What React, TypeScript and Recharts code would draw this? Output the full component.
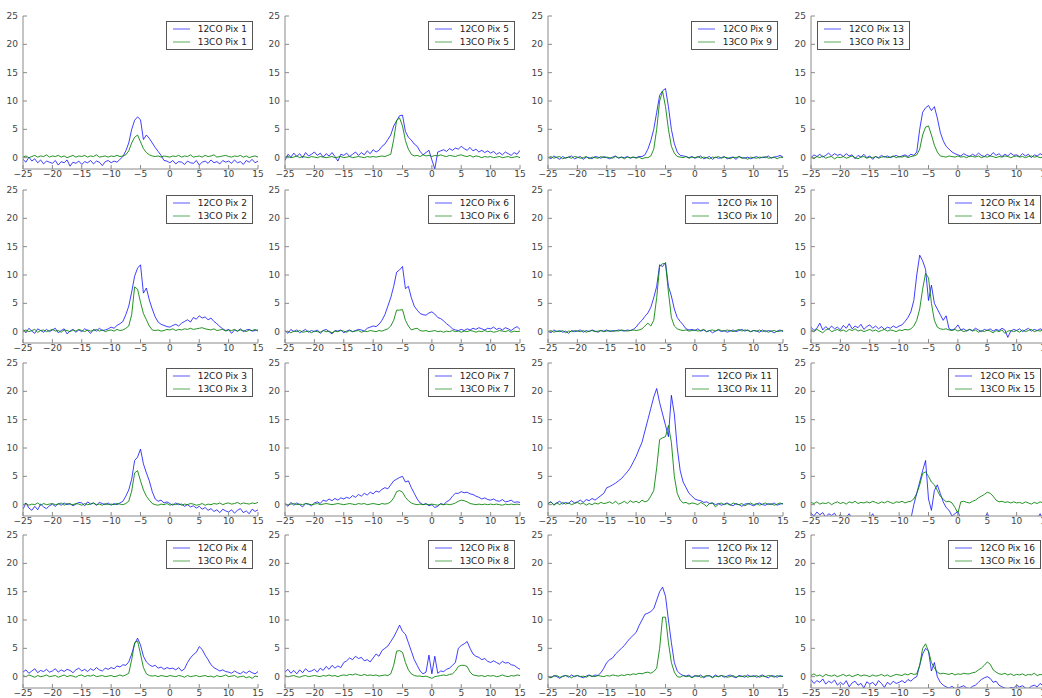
import { LineChart, Line, XAxis, YAxis, Legend } from "recharts";

// velocity channels (km/s), shared by every spectrum
const velocity = [
  -25, -24.5, -24, -23.5, -23, -22.5, -22, -21.5, -21, -20.5,
  -20, -19.5, -19, -18.5, -18, -17.5, -17, -16.5, -16, -15.5,
  -15, -14.5, -14, -13.5, -13, -12.5, -12, -11.5, -11, -10.5,
  -10, -9.5, -9, -8.5, -8, -7.5, -7, -6.5, -6, -5.5,
  -5, -4.5, -4, -3.5, -3, -2.5, -2, -1.5, -1, -0.5,
  0, 0.5, 1, 1.5, 2, 2.5, 3, 3.5, 4, 4.5,
  5, 5.5, 6, 6.5, 7, 7.5, 8, 8.5, 9, 9.5,
  10, 10.5, 11, 11.5, 12, 12.5, 13, 13.5, 14, 14.5, 15,
];

const xTicks = [-25, -20, -15, -10, -5, 0, 5, 10, 15];
const yTicks = [0, 5, 10, 15, 20, 25];

const pix1co12 = [
  -0.3, -0.8, 0.1, -0.6, -0.2, -0.9, -0.4, -1.1, -0.6, -0.8,
  -1.0, -0.5, -1.3, -0.7, -0.9, -0.4, -1.5, -0.8, -1.0, -0.6,
  -1.2, -0.7, -0.9, -0.5, -1.1, -0.6, -0.8, -1.4, -0.7, -0.5,
  -0.9, -0.6, -0.8, -0.3, 0.2, 1.2, 2.6, 5.0, 6.6, 7.2,
  6.7, 3.2, 4.0, 3.4, 2.6, 1.8, 1.1, 0.4, -0.5, -0.6,
  -0.9, -0.5, -1.1, -0.7, -0.8, -1.2, -0.6, -0.9, -1.0, -0.5,
  -1.3, -0.8, -0.6, -1.0, -0.4, -0.9, -0.7, -1.1, -0.5, -0.8,
  -0.6, -1.0, -0.4, -0.9, -0.7, -1.2, -0.5, -0.8, -0.3, -0.9, -0.6,
];
const pix1co13 = [
  0.1, 0.3, 0.0, 0.2, 0.4, 0.1, 0.3, 0.2, 0.5, 0.1,
  0.3, 0.2, 0.4, 0.1, 0.3, 0.0, 0.2, 0.4, 0.1, 0.3,
  0.2, 0.4, 0.1, 0.3, 0.2, 0.5, 0.1, 0.2, 0.3, 0.1,
  0.3, 0.2, 0.4, 0.2, 0.3, 0.5, 1.2, 2.6, 3.6, 4.0,
  2.8, 1.6, 0.9, 0.5, 0.3, 0.2, 0.3, 0.1, 0.3, 0.2,
  0.1, 0.3, 0.2, 0.4, 0.1, 0.3, 0.2, 0.5, 0.1, 0.2,
  0.3, 0.1, 0.4, 0.2, 0.3, 0.5, 0.1, 0.2, 0.3, 0.4,
  0.2, 0.1, 0.3, 0.2, 0.4, 0.1, 0.3, 0.0, 0.2, 0.3, 0.1,
];

const pix2co12 = [
  0.4, -0.2, 0.6, 0.1, -0.3, 0.5, 0.2, -0.1, 0.4, 0.0,
  0.3, 0.6, -0.2, 0.2, 0.5, -0.4, 0.1, 0.4, -0.1, 0.3,
  0.0, 0.5, 0.2, -0.3, 0.4, 0.1, 0.6, 0.2, 0.3, 0.5,
  0.8, 0.6, 1.1, 1.4, 1.8, 3.0, 4.5, 7.0, 9.8, 11.2,
  11.8, 6.8, 7.7, 5.6, 4.0, 2.6, 1.7, 1.3, 1.1, 0.9,
  0.8, 1.1, 1.3, 1.0, 1.5, 1.8, 2.1, 1.7, 2.5, 2.2,
  2.8, 2.4, 2.6, 2.1, 2.4, 1.8, 1.4, 0.9, 0.5, 0.2,
  0.4, -0.3, 0.3, 0.1, 0.5, 0.0, 0.3, 0.4, 0.1, 0.2, 0.3,
];
const pix2co13 = [
  0.1, 0.3, 0.0, 0.2, 0.4, -0.1, 0.2, 0.3, 0.0, 0.2,
  0.4, 0.1, 0.2, -0.1, 0.3, 0.2, 0.0, 0.3, 0.1, 0.4,
  0.2, 0.0, 0.3, 0.1, 0.2, 0.4, 0.1, 0.3, 0.0, 0.2,
  0.3, 0.1, 0.4, 0.2, 0.3, 0.6, 1.0, 3.0, 7.9, 7.5,
  5.2, 3.2, 2.1, 1.0, 0.3, 0.2, 0.3, 0.1, 0.2, 0.4,
  0.3, 0.5, 0.2, 0.4, 0.3, 0.5, 0.4, 0.6, 0.4, 0.5,
  0.6, 0.7, 0.5, 0.4, 0.3, 0.5, 0.2, 0.3, 0.4, 0.1,
  0.3, 0.2, 0.4, 0.1, 0.3, 0.2, 0.0, 0.3, 0.2, 0.4, 0.1,
];

const pix3co12 = [
  -0.8, 0.3, -0.6, -1.0, -0.3, -0.9, 0.1, -0.4, -0.7, -0.2,
  0.1, -0.3, 0.2, -0.1, 0.3, 0.0, 0.2, -0.2, 0.1, 0.4,
  0.3, -0.2, 0.5, 0.1, 0.3, -0.1, 0.4, 0.2, 0.0, 0.3,
  -0.1, 0.2, 0.0, 0.3, 0.6, 1.5, 2.6, 4.5, 7.8, 8.4,
  9.8, 7.2, 5.6, 4.2, 2.3, 1.0, 0.6, 0.8, 0.3, 0.5,
  0.2, -0.1, 0.3, 0.0, 0.1, -0.3, 0.0, -0.4, -0.2, -0.6,
  -0.3, -0.8, -0.5, -1.0, -0.7, -1.2, -0.9, -1.4, -0.8, -1.1,
  -1.3, -0.9, -1.5, -1.0, -0.7, -1.4, -1.1, -1.6, -0.8, -1.2, -0.9,
];
const pix3co13 = [
  0.0, 0.2, -0.1, 0.1, 0.0, 0.3, -0.1, 0.2, 0.0, 0.1,
  0.2, 0.0, 0.1, 0.3, -0.1, 0.2, 0.1, 0.0, 0.2, 0.1,
  -0.1, 0.2, 0.0, 0.1, 0.3, 0.0, 0.1, -0.1, 0.2, 0.0,
  0.1, 0.0, 0.2, 0.1, 0.0, 0.2, 0.6, 2.4, 5.6, 6.0,
  4.2, 2.6, 1.5, 0.8, 0.2, 0.0, -0.1, 0.1, 0.0, 0.2,
  -0.1, 0.1, 0.0, 0.2, -0.1, 0.1, 0.0, 0.2, 0.1, -0.1,
  0.0, 0.2, -0.1, 0.1, 0.0, 0.2, 0.1, 0.3, 0.0, 0.2,
  0.3, 0.1, 0.2, 0.4, 0.1, 0.3, 0.2, 0.1, 0.3, 0.2, 0.4,
];

const pix4co12 = [
  0.8, 1.2, 0.6, 1.0, 1.4, 0.7, 1.1, 0.9, 1.3, 0.8,
  1.0, 1.4, 0.8, 1.2, 0.9, 1.3, 1.1, 0.7, 1.2, 1.5,
  1.0, 1.3, 0.9, 1.4, 1.1, 1.6, 1.2, 1.0, 1.5, 1.3,
  1.6, 1.4, 1.9, 1.7, 2.1, 2.0, 2.6, 4.0, 5.8, 6.8,
  5.6, 3.6, 2.6, 2.1, 1.8, 2.0, 1.5, 1.7, 1.3, 1.6,
  1.4, 1.5, 1.2, 1.6, 1.0, 1.4, 2.5, 3.3, 3.9, 4.3,
  5.3, 4.8, 3.8, 3.0, 2.1, 1.6, 1.3, 1.0, 1.2, 0.9,
  0.8, 0.6, 1.0, 0.7, 0.5, 0.9, 0.6, 1.0, 0.7, 0.5, 0.9,
];
const pix4co13 = [
  0.2, 0.0, 0.3, 0.1, -0.1, 0.2, 0.0, 0.1, 0.3, 0.0,
  0.1, 0.2, -0.1, 0.1, 0.3, 0.0, 0.2, 0.1, -0.1, 0.2,
  0.3, 0.0, 0.2, 0.1, 0.3, 0.0, 0.1, 0.2, 0.0, 0.1,
  0.2, 0.0, 0.1, 0.3, 0.1, 0.3, 0.6, 3.0, 6.0, 6.3,
  4.0, 1.6, 0.5, 0.2, 0.1, 0.2, 0.0, 0.2, 0.1, 0.0,
  0.2, 0.1, 0.0, 0.2, 0.1, -0.1, 0.2, 0.0, 0.1, 0.2,
  0.0, 0.1, 0.2, 0.0, 0.1, -0.1, 0.2, 0.0, 0.1, 0.3,
  0.0, 0.1, 0.2, -0.1, 0.0, 0.1, -0.2, 0.0, -0.3, 0.1, 0.0,
];

const pix5co12 = [
  -0.5, 0.6, 0.1, 0.8, 0.2, 0.7, 0.0, 0.9, 0.3, 0.6,
  1.0, 0.4, 0.8, 0.1, 0.7, 0.3, 0.9, 0.2, -0.6, 0.6,
  0.4, 0.8, 0.2, 0.6, 1.0, 0.4, 0.9, 0.5, 1.2, 0.7,
  1.4, 1.0, 1.3, 2.0, 2.4, 3.2, 4.0, 5.6, 6.5, 7.4,
  7.5, 4.6, 3.6, 3.1, 2.4, 2.0, 1.1, 0.5, 0.9, 1.3,
  -0.4, -2.0, 1.0, 1.2, 1.4, 1.1, 1.6, 1.3, 1.7, 1.5,
  2.0, 1.6, 1.3, 1.8, 1.2, 1.5, 1.0, 1.3, 0.9, 1.2,
  0.8, 1.1, 0.6, 0.9, 0.5, 1.0, 0.7, 0.4, 0.9, 0.6, 1.3,
];
const pix5co13 = [
  0.1, 0.2, 0.0, 0.1, 0.3, 0.0, 0.2, 0.1, 0.0, 0.2,
  0.1, 0.0, 0.2, 0.1, 0.0, 0.1, 0.2, 0.0, 0.1, 0.2,
  0.0, 0.1, 0.2, 0.0, 0.1, 0.2, 0.1, 0.0, 0.2, 0.1,
  0.2, 0.1, 0.2, 0.3, 0.2, 0.4, 0.6, 3.2, 6.6, 7.0,
  5.6, 3.0, 1.5, 0.6, 0.3, 0.4, 0.2, 0.5, 0.3, 0.4,
  0.2, 0.4, 0.3, 0.5, 0.3, 0.2, 0.4, 0.3, 0.2, 0.4,
  0.5, 0.3, 0.2, 0.4, 0.1, 0.3, 0.2, 0.0, 0.2, 0.1,
  0.2, 0.0, 0.1, 0.2, 0.0, 0.1, 0.2, 0.0, 0.1, 0.2, 0.0,
];

const pix6co12 = [
  0.2, -0.3, 0.4, 0.0, 0.3, -0.2, 0.1, 0.4, -0.1, 0.2,
  0.0, 0.3, -0.3, 0.2, 0.4, 0.0, -0.4, 0.2, 0.1, 0.3,
  -0.2, 0.1, 0.3, 0.0, 0.2, 0.4, 0.3, 0.1, 0.6, 0.8,
  1.0, 0.9, 1.3, 2.0, 3.0, 4.5, 6.0, 8.0, 10.5, 10.9,
  11.5, 7.6, 8.0, 6.0, 4.5, 3.8, 3.2, 3.0, 2.9, 3.3,
  3.5, 3.1, 2.5, 2.3, 1.9, 1.4, 1.0, 0.5, 0.3, 0.2,
  0.4, 0.2, 0.5, 0.3, 0.6, 0.4, 0.7, 0.5, 0.3, 0.6,
  0.5, 0.8, 0.4, 0.6, 0.3, 0.7, 0.5, 0.2, 0.6, 0.9, 0.4,
];
const pix6co13 = [
  0.0, 0.1, -0.2, 0.1, 0.0, 0.2, -0.1, 0.0, 0.1, -0.2,
  0.1, 0.0, -0.1, 0.2, 0.0, 0.1, -0.2, 0.1, 0.0, 0.2,
  0.1, -0.1, 0.2, 0.0, 0.1, 0.2, -0.1, 0.1, 0.0, 0.2,
  0.1, 0.0, 0.2, 0.1, 0.3, 0.5, 1.0, 2.0, 3.8, 3.8,
  3.9, 2.0, 1.0, 0.3, 0.5, 0.6, 0.2, 0.1, 0.2, 0.0,
  0.1, 0.2, 0.0, 0.1, -0.1, 0.1, 0.0, 0.2, 0.0, 0.1,
  -0.1, 0.1, 0.0, 0.2, 0.1, -0.1, 0.1, 0.0, 0.2, 0.0,
  0.1, -0.1, 0.0, 0.2, 0.1, 0.0, 0.2, -0.1, 0.1, 0.0, 0.1,
];

const pix7co12 = [
  0.2, -0.3, 0.4, -0.1, 0.3, 0.0, -0.4, 0.2, 0.1, -0.2,
  0.3, 0.5, 0.2, 0.8, 0.6, 1.0, 0.7, 1.1, 0.8, 1.2,
  1.0, 1.3, 1.1, 1.6, 1.3, 1.8, 1.5, 2.0, 1.7, 2.2,
  1.9, 2.4, 2.2, 2.7, 3.0, 2.8, 3.5, 4.2, 4.5, 4.8,
  5.0, 4.0, 4.2, 3.0, 2.0, 1.0, 0.3, 0.0, 0.2, -0.2,
  0.0, -0.5, -0.3, 0.2, 0.0, 0.5, 0.8, 1.5, 2.0, 2.0,
  2.3, 2.1, 2.2, 1.9, 1.8, 1.5, 1.3, 1.0, 1.2, 0.9,
  0.8, 1.0, 0.7, 0.6, 0.9, 0.5, 0.6, 0.8, 0.4, 0.5, 0.4,
];
const pix7co13 = [
  0.1, 0.0, 0.1, 0.2, 0.0, 0.1, 0.0, 0.2, 0.1, 0.0,
  0.1, 0.2, 0.0, 0.1, 0.2, 0.1, 0.0, 0.1, 0.2, 0.1,
  0.0, 0.1, 0.2, 0.1, 0.0, 0.2, 0.1, 0.2, 0.0, 0.1,
  0.2, 0.1, 0.0, 0.2, 0.1, 0.2, 0.5, 1.2, 2.3, 2.5,
  2.2, 1.3, 0.7, 0.3, 0.1, 0.0, 0.1, 0.0, 0.1, 0.0,
  0.1, 0.0, -0.1, 0.1, 0.0, 0.1, 0.0, 0.1, 0.3, 0.6,
  0.8, 0.7, 0.5, 0.2, 0.1, 0.0, 0.1, 0.0, 0.1, 0.0,
  0.1, 0.0, 0.1, 0.0, -0.1, 0.1, 0.0, 0.1, 0.0, 0.1, 0.0,
];

const pix8co12 = [
  0.8, 1.3, 0.6, 1.1, 0.5, 1.2, 0.7, 1.4, 0.9, 1.0,
  1.3, 0.8, 1.5, 1.1, 1.8, 1.3, 2.0, 1.5, 1.9, 1.6,
  2.5, 2.8, 3.3, 3.0, 3.6, 3.2, 3.4, 2.8, 3.0, 2.6,
  3.3, 4.0, 3.6, 4.6, 5.0, 5.4, 6.2, 7.0, 8.0, 9.1,
  8.0, 7.5, 6.0, 4.5, 3.0, 2.0, 1.0, 0.5, 0.8, 3.8,
  0.5, 3.6, 0.6, 1.0, 0.9, 1.3, 1.5, 2.0, 2.5, 5.0,
  5.5, 5.8, 6.2, 5.0, 4.0, 3.6, 3.4, 3.0, 3.2, 2.7,
  2.5, 2.8, 2.5, 2.2, 2.7, 2.4, 2.5, 2.1, 2.0, 1.6, 1.3,
];
const pix8co13 = [
  0.2, 0.0, 0.1, 0.2, 0.0, -0.1, 0.1, 0.2, 0.0, 0.1,
  0.2, 0.1, 0.0, 0.2, 0.1, 0.3, 0.1, 0.2, 0.0, 0.2,
  0.3, 0.2, 0.4, 0.3, 0.5, 0.3, 0.2, 0.4, 0.2, 0.3,
  0.2, 0.3, 0.1, 0.2, 0.3, 0.2, 0.5, 2.0, 4.5, 4.6,
  4.3, 2.5, 1.2, 0.5, 0.2, 0.1, 0.1, 0.0, 0.1, -0.1,
  -0.3, 0.0, 0.1, 0.2, 0.3, 0.2, 0.4, 0.5, 1.0, 1.8,
  2.0, 2.0, 1.8, 0.8, 0.3, 0.2, 0.1, 0.2, 0.0, 0.2,
  0.1, 0.2, 0.0, 0.1, 0.3, 0.1, 0.0, 0.2, 0.1, 0.3, 0.2,
];

const pix9co12 = [
  0.1, -0.2, 0.3, 0.0, -0.3, 0.2, -0.1, 0.1, 0.3, -0.2,
  0.0, 0.2, -0.3, 0.1, 0.0, -0.2, 0.2, 0.1, -0.1, 0.2,
  0.0, -0.2, 0.1, 0.3, -0.1, 0.1, 0.0, 0.2, -0.1, 0.1,
  0.0, 0.2, 0.2, 0.5, 1.5, 3.0, 5.0, 8.0, 11.0, 11.8,
  12.2, 9.0, 5.0, 2.5, 1.0, 0.4, 0.3, 0.2, 0.0, 0.2,
  -0.1, 0.1, 0.3, -0.2, 0.0, 0.2, -0.3, 0.1, -0.1, 0.0,
  0.2, -0.2, 0.0, 0.1, -0.3, 0.2, 0.0, -0.1, 0.1, -0.2,
  0.0, 0.2, -0.1, 0.1, 0.0, 0.3, -0.1, 0.1, 0.2, 0.4, 0.1,
];
const pix9co13 = [
  0.0, 0.2, -0.1, 0.1, 0.2, -0.2, 0.0, 0.1, -0.1, 0.2,
  0.1, -0.1, 0.0, 0.2, -0.2, 0.1, 0.0, -0.1, 0.2, 0.0,
  0.1, 0.0, -0.1, 0.2, 0.0, 0.1, -0.2, 0.1, 0.0, 0.1,
  -0.1, 0.1, -0.2, 0.0, 0.0, 0.3, 1.5, 5.0, 10.0, 11.7,
  9.0, 5.0, 2.0, 0.8, 0.2, 0.1, 0.0, 0.2, -0.1, 0.1,
  0.0, 0.2, -0.1, 0.1, 0.0, -0.2, 0.1, 0.0, 0.2, -0.1,
  0.1, 0.0, -0.2, 0.1, 0.0, 0.2, -0.1, 0.0, -0.3, 0.1,
  0.0, -0.1, 0.1, 0.0, 0.2, -0.1, 0.0, 0.1, -0.2, 0.1, 0.0,
];

const pix10co12 = [
  0.1, -0.2, 0.3, 0.0, 0.2, -0.1, 0.1, -0.3, 0.2, 0.0,
  0.1, 0.3, -0.1, 0.2, 0.0, 0.3, 0.1, -0.1, 0.2, 0.1,
  0.3, 0.0, 0.2, 0.1, 0.3, 0.2, 0.1, 0.3, 0.2, 0.4,
  0.8, 1.5, 2.0, 2.7, 3.3, 4.3, 6.0, 8.0, 11.8, 11.5,
  12.2, 8.0, 6.3, 4.0, 2.5, 1.8, 1.2, 0.5, 0.3, 0.4,
  0.2, 0.5, 0.1, 0.3, 0.0, 0.2, -0.2, 0.1, 0.3, 0.0,
  0.2, -0.1, 0.1, 0.3, 0.0, 0.2, 0.4, 0.1, 0.3, 0.0,
  0.2, 0.1, -0.1, 0.3, 0.0, 0.2, 0.1, -0.2, 0.1, 0.3, 0.0,
];
const pix10co13 = [
  0.0, 0.2, -0.1, 0.1, 0.0, 0.2, -0.2, 0.1, 0.0, 0.2,
  0.1, 0.0, 0.2, -0.1, 0.1, 0.2, 0.0, 0.1, 0.2, 0.0,
  0.1, 0.2, 0.0, 0.2, 0.1, 0.3, 0.2, 0.1, 0.2, 0.3,
  0.2, 0.3, 0.5, 1.0, 1.5, 1.0, 2.0, 6.0, 11.5, 12.0,
  12.0, 7.0, 2.5, 1.0, 0.5, 0.3, 0.2, 0.3, 0.1, 0.2,
  0.3, 0.1, 0.2, 0.4, 0.0, 0.2, 0.3, 0.1, 0.4, 0.2,
  0.1, 0.3, 0.2, 0.0, 0.2, 0.4, 0.1, 0.3, 0.2, 0.0,
  0.2, 0.1, 0.3, 0.0, 0.2, -0.1, 0.1, 0.2, 0.0, 0.1, 0.2,
];

const pix11co12 = [
  0.2, 0.5, 0.0, 0.3, 0.6, 0.1, 0.4, 0.2, 0.7, 0.3,
  0.5, 0.8, 0.4, 0.9, 0.7, 1.1, 0.8, 1.2, 1.6, 2.0,
  3.0, 3.2, 3.5, 3.8, 4.2, 4.6, 5.2, 5.8, 6.5, 7.5,
  8.5, 9.8, 11.0, 13.0, 15.0, 17.0, 19.0, 20.5, 18.0, 16.0,
  14.0, 12.0, 19.3, 16.0, 10.0, 6.0, 4.0, 3.0, 2.0, 1.5,
  1.0, 0.8, 0.7, 0.4, 0.5, 0.2, 0.3, 0.0, 0.2, -0.1,
  0.1, 0.3, 0.0, -0.2, 0.2, 0.0, -0.3, 0.1, 0.2, 0.0,
  -0.2, 0.1, 0.3, 0.0, -0.1, 0.2, 0.0, 0.3, -0.1, 0.1, 0.2,
];
const pix11co13 = [
  0.2, 0.5, -0.1, 0.3, 0.0, 0.4, 0.1, 0.3, 0.0, 0.2,
  0.4, 0.1, 0.3, -0.1, 0.2, 0.0, 0.3, 0.1, 0.4, 0.2,
  0.3, 0.5, 0.2, 0.6, 0.1, 0.3, 0.6, 0.2, 0.7, 0.4,
  0.6, 0.3, 0.8, 0.5, 0.7, 1.5, 2.5, 6.5, 11.5, 11.8,
  12.0, 14.0, 11.0, 5.0, 2.0, 0.8, 0.3, 0.4, 0.1, 0.3,
  0.2, 0.0, 0.4, 0.1, -0.3, 0.2, 0.3, -0.4, 0.1, 0.3,
  0.0, 0.2, -0.1, 0.3, 0.1, 0.0, 0.2, -0.2, 0.1, 0.3,
  0.0, 0.2, -0.1, 0.1, 0.3, 0.0, 0.2, -0.1, 0.1, 0.3, 0.1,
];

const pix12co12 = [
  0.1, -0.2, 0.2, 0.0, -0.3, 0.1, 0.2, -0.1, 0.3, 0.0,
  0.2, 0.0, -0.2, 0.1, 0.3, 0.0, 0.3, 0.2, 0.7, 1.5,
  2.5, 3.0, 3.3, 4.0, 4.5, 5.0, 5.5, 6.2, 6.8, 7.3,
  7.8, 9.0, 10.0, 11.0, 11.2, 11.5, 12.0, 13.5, 15.0, 15.8,
  14.2, 10.0, 6.0, 2.5, 1.0, 0.5, 0.2, 0.1, 0.3, -0.1,
  0.2, 0.0, 0.3, -0.2, 0.1, 0.2, -0.1, 0.3, 0.0, 0.2,
  -0.1, 0.1, 0.3, 0.0, -0.2, 0.2, 0.1, -0.1, 0.3, 0.0,
  0.2, -0.1, 0.1, 0.3, 0.0, -0.2, 0.2, 0.1, -0.1, 0.2, 0.0,
];
const pix12co13 = [
  0.0, -0.2, 0.1, 0.2, -0.1, 0.0, 0.2, 0.1, -0.2, 0.1,
  0.2, 0.0, 0.1, -0.1, 0.2, 0.1, 0.0, 0.2, 0.1, 0.0,
  0.2, 0.1, 0.3, 0.2, 0.1, 0.3, 0.2, 0.4, 0.3, 0.5,
  0.4, 0.6, 0.5, 0.7, 0.8, 0.6, 0.9, 1.5, 5.0, 10.5,
  10.5, 6.0, 2.5, 0.8, 0.0, -0.1, 0.2, 0.0, 0.1, -0.2,
  0.1, 0.2, -0.1, 0.0, 0.2, 0.1, -0.2, 0.1, 0.0, 0.2,
  0.1, -0.1, 0.0, 0.2, -0.1, 0.1, 0.0, 0.2, -0.1, 0.1,
  0.0, 0.2, -0.1, 0.1, 0.0, 0.2, 0.1, -0.1, 0.2, 0.0, 0.1,
];

const pix13co12 = [
  0.0, 0.5, 0.2, 0.6, 0.1, 0.4, 0.8, 0.3, 0.7, 0.4,
  0.6, 0.2, 0.7, 0.3, 0.5, -0.2, 0.4, 0.1, 0.6, 0.0,
  0.3, -0.3, 0.2, 0.0, 0.4, 0.1, 0.3, 0.0, 0.2, 0.4,
  0.1, 0.3, 0.5, 0.2, 0.6, 0.4, 1.0, 5.0, 8.0, 8.8,
  9.2, 8.3, 9.0, 7.0, 4.5, 3.0, 2.0, 1.5, 1.0, 0.7,
  0.5, 0.3, 0.7, 0.4, 0.2, 0.6, 0.3, 0.8, 0.4, 0.2,
  0.6, 0.3, 0.9, 0.4, 0.7, 0.2, 0.6, 0.3, 0.8, 0.4,
  0.5, 0.2, 0.7, 0.3, 0.6, 0.0, 0.5, 0.3, 0.7, 0.4, 0.6,
];
const pix13co13 = [
  0.1, -0.2, 0.2, 0.0, 0.3, -0.1, 0.1, 0.2, -0.2, 0.1,
  0.0, 0.2, -0.1, 0.1, 0.3, 0.0, -0.2, 0.1, 0.2, -0.1,
  0.1, 0.0, 0.2, -0.1, 0.1, 0.2, 0.0, 0.1, 0.3, 0.0,
  0.2, 0.1, 0.3, 0.0, 0.2, 0.3, 0.5, 1.5, 4.0, 5.4,
  5.6, 4.0, 2.2, 1.0, 0.3, 0.2, 0.1, 0.3, 0.2, 0.1,
  0.3, 0.1, 0.2, 0.0, 0.3, 0.2, 0.1, 0.3, 0.0, 0.2,
  0.1, 0.3, 0.2, 0.0, 0.2, 0.1, 0.3, 0.2, 0.0, 0.2,
  0.3, 0.1, 0.2, 0.0, 0.2, 0.3, 0.1, 0.2, 0.0, 0.1, 0.2,
];

const pix14co12 = [
  0.8, 0.2, 0.6, 1.5, 0.3, 0.9, 0.4, 1.0, 0.5, 0.8,
  0.3, 1.1, 0.6, 1.4, 0.5, 1.0, 0.7, 1.3, 0.4, 0.9,
  1.2, 0.6, 1.0, 0.5, 0.9, 0.4, 0.8, 0.6, 1.0, 0.7,
  1.0, 1.2, 1.8, 2.5, 3.5, 5.5, 10.0, 13.5, 12.5, 11.0,
  5.5, 8.2, 5.0, 4.0, 3.0, 2.0, 2.8, 0.5, 0.3, 0.5,
  1.2, 0.3, 0.5, 0.1, 0.4, 0.2, 0.6, 0.3, 0.0, 0.4,
  0.2, 0.5, 0.1, 0.4, 0.2, 0.6, 0.3, -1.0, 0.1, 0.4,
  0.2, 0.5, 0.0, 0.3, 0.6, 0.1, 0.4, 0.2, 0.5, 0.3, 0.4,
];
const pix14co13 = [
  0.3, 0.0, 0.4, 0.1, -0.2, 0.3, 0.5, 0.0, 0.2, 0.4,
  0.1, 0.3, 0.0, 0.4, 0.2, 0.5, 0.1, 0.3, 0.0, 0.2,
  0.4, 0.1, 0.3, 0.0, 0.2, 0.4, 0.1, 0.3, 0.2, 0.0,
  0.3, 0.2, 0.4, 0.3, 0.5, 1.0, 2.0, 4.0, 7.5, 10.3,
  9.5, 5.0, 2.0, 0.8, 0.5, 0.4, 0.5, 0.3, 0.2, 0.4,
  0.1, 0.3, 0.0, 0.2, 0.4, 0.1, 0.3, -0.1, 0.2, 0.0,
  0.3, 0.1, -0.2, 0.2, 0.0, 0.3, -0.3, 0.1, 0.2, 0.0,
  0.2, -0.1, 0.3, 0.0, 0.2, 0.4, 0.0, 0.2, 0.1, 0.3, 0.0,
];

const pix15co12 = [
  -1.5, -2.0, -1.3, -1.8, -1.4, -2.2, -1.6, -1.9, -1.5, -2.4,
  -1.7, -2.5, -2.2, -1.6, -2.6, -2.3, -2.8, -2.1, -2.5, -2.7,
  -2.4, -1.6, -2.6, -2.9, -2.3, -2.7, -2.5, -3.0, -2.4, -2.8,
  -2.2, -2.9, -2.6, -3.1, -2.5, 0.0, 2.0, 4.0, 6.0, 7.8,
  1.0, -1.0, 2.5, 3.5, 2.0, 0.5, -0.5, -1.0, -2.0, -1.6,
  -1.2, -2.5, -2.8, -3.0, -2.6, -3.2, -2.9, -3.1, -2.7, -2.4,
  -1.5, -2.6, -2.9, -3.2, -2.8, -3.0, -2.7, -3.3, -2.9, -3.1,
  -2.6, -3.0, -2.8, -3.2, -2.7, -2.9, -3.1, -2.5, -1.6, -2.8, -2.4,
];
const pix15co13 = [
  0.4, 0.2, 0.5, 0.1, 0.3, 0.2, 0.4, 0.0, 0.3, 0.5,
  0.2, 0.4, 0.1, 0.5, 0.3, 0.6, 0.2, 0.4, 0.3, 0.5,
  0.3, 0.6, 0.4, 0.2, 0.5, 0.3, 0.6, 0.4, 0.2, 0.5,
  0.4, 0.6, 0.3, 0.5, 0.6, 1.0, 2.0, 3.5, 5.5, 5.8,
  5.0, 4.0, 3.5, 2.5, 1.5, 1.0, 0.5, 0.6, 0.3, -0.5,
  -1.5, 0.5, 0.6, 0.4, 0.3, 0.6, 0.8, 1.2, 1.5, 1.8,
  2.2, 2.0, 1.5, 0.8, 0.5, 0.6, 0.4, 0.5, 0.3, 0.5,
  0.3, 0.4, 0.2, 0.5, 0.3, 0.1, 0.4, 0.2, 0.5, 0.3, 0.4,
];

const pix16co12 = [
  -0.5, -1.2, -0.7, -1.0, -0.4, -1.3, -0.8, -1.1, -0.6, -1.5,
  -1.0, -1.4, -0.7, -1.8, -1.1, -0.8, -1.5, -1.2, -2.0, -0.9,
  -1.3, -1.0, -1.6, -0.7, -1.2, -1.9, -1.0, -1.4, -0.8, -1.2,
  -1.0, -0.7, -1.1, -0.5, -0.8, -0.3, 0.0, 2.0, 4.0, 5.0,
  4.5, 1.0, 2.5, 0.0, -1.0, -1.5, -1.8, -2.0, -1.7, -2.1,
  -2.0, -1.8, -1.6, -2.0, -2.1, -1.7, -1.5, -1.0, -0.5, -0.2,
  0.0, -0.3, -1.0, -0.8, -1.5, -1.8, -2.0, -2.2, -1.9, -2.0,
  -1.5, -1.8, -1.6, -2.0, -2.1, -1.7, -1.5, -1.8, -1.2, -1.6, -1.0,
];
const pix16co13 = [
  0.2, 0.5, 0.1, 0.3, 0.0, 0.4, 0.2, 0.1, 0.3, 0.0,
  0.2, 0.4, 0.1, 0.3, 0.0, 0.2, 0.4, 0.1, 0.3, 0.2,
  0.0, 0.3, 0.1, 0.2, 0.4, 0.1, 0.3, 0.0, 0.2, 0.4,
  0.3, 0.2, 0.5, 0.3, 0.6, 0.4, 0.5, 2.0, 5.0, 5.8,
  4.5, 2.5, 1.5, 0.8, 0.5, 0.6, 0.5, 0.4, 0.6, 0.3,
  0.5, 0.4, 0.6, 0.5, 0.5, 0.7, 0.8, 1.2, 1.5, 2.0,
  2.6, 2.2, 1.2, 0.8, 0.5, 0.4, 0.6, 0.3, 0.5, 0.2,
  0.4, 0.3, 0.5, 0.2, 0.4, 0.3, 0.6, 0.2, 0.4, 0.3, 0.5,
];

const spectra = [
  [pix1co12, pix1co13], [pix2co12, pix2co13], [pix3co12, pix3co13], [pix4co12, pix4co13],
  [pix5co12, pix5co13], [pix6co12, pix6co13], [pix7co12, pix7co13], [pix8co12, pix8co13],
  [pix9co12, pix9co13], [pix10co12, pix10co13], [pix11co12, pix11co13], [pix12co12, pix12co13],
  [pix13co12, pix13co13], [pix14co12, pix14co13], [pix15co12, pix15co13], [pix16co12, pix16co13],
];

const BLUE = "#0000ff";
const GREEN = "#008000";
const FRAME = "#8a8a8a";
const LABEL = "#444";
const FONT = "DejaVu Sans, sans-serif";

// layout of the 4x4 grid (plot area edges in page pixels)
const colLeft = [23, 285, 548, 811];
const rowTop = [16, 190, 363, 535];
const PLOT_W = 235;
const PLOT_H = 153;
const Y_AXIS_W = 22;
const X_AXIS_H = 10;
const M_TOP = 4;
const M_RIGHT = 10;
const TICK = 4;

function fmt(v: number) {
  return v < 0 ? `\u2212${Math.abs(v)}` : `${v}`;
}

function BottomTick({ x, y, payload }: any) {
  return (
    <g>
      <line x1={x} y1={y} x2={x} y2={y - TICK} stroke={FRAME} />
      <text x={x} y={y + 8} textAnchor="middle" fontSize={9} fontFamily={FONT} fill={LABEL}>
        {fmt(payload.value)}
      </text>
    </g>
  );
}

function TopTick({ x, y }: any) {
  return <line x1={x} y1={y} x2={x} y2={y + TICK} stroke={FRAME} />;
}

function LeftTick({ x, y, payload }: any) {
  return (
    <g>
      <line x1={x} y1={y} x2={x + TICK} y2={y} stroke={FRAME} />
      <text x={x - 5} y={y + 3} textAnchor="end" fontSize={9} fontFamily={FONT} fill={LABEL}>
        {fmt(payload.value)}
      </text>
    </g>
  );
}

function RightTick({ x, y }: any) {
  return <line x1={x} y1={y} x2={x - TICK} y2={y} stroke={FRAME} />;
}

function LegendBox({ pix }: { pix: number }) {
  const rows: [string, string][] = [
    ["12CO", BLUE],
    ["13CO", GREEN],
  ];
  return (
    <div
      style={{
        background: "#fff",
        border: "1px solid #555",
        padding: "1px 5px 1px 6px",
        fontFamily: FONT,
        fontSize: 9,
        lineHeight: "12.5px",
        color: "#222",
      }}
    >
      {rows.map(([name, color]) => (
        <div key={name} style={{ display: "flex", alignItems: "center", whiteSpace: "nowrap" }}>
          <svg width={17} height={4} style={{ marginRight: 8 }}>
            <line x1={0} y1={2} x2={17} y2={2} stroke={color} strokeWidth={1.2} strokeOpacity={0.55} />
          </svg>
          <span>
            {name} Pix {pix}
          </span>
        </div>
      ))}
    </div>
  );
}

function Panel({ pix }: { pix: number }) {
  const [co12, co13] = spectra[pix - 1];
  const data = velocity.map((v, i) => ({ v, co12: co12[i], co13: co13[i] }));
  const col = Math.floor((pix - 1) / 4);
  const row = (pix - 1) % 4;
  const legendPos = pix === 13 ? { top: 9, left: Y_AXIS_W + 6 } : { top: 9, right: M_RIGHT + 5 };

  return (
    <div style={{ position: "absolute", left: colLeft[col] - Y_AXIS_W, top: rowTop[row] - M_TOP }}>
      <LineChart
        width={Y_AXIS_W + PLOT_W + M_RIGHT}
        height={M_TOP + PLOT_H + X_AXIS_H}
        data={data}
        margin={{ top: M_TOP, right: M_RIGHT, bottom: 0, left: 0 }}
      >
        <XAxis
          dataKey="v"
          type="number"
          domain={[-25, 15]}
          ticks={xTicks}
          interval={0}
          allowDataOverflow
          height={X_AXIS_H}
          tickSize={0}
          tickMargin={0}
          tick={<BottomTick />}
          axisLine={{ stroke: FRAME }}
        />
        <XAxis
          xAxisId="top"
          orientation="top"
          dataKey="v"
          type="number"
          domain={[-25, 15]}
          ticks={xTicks}
          interval={0}
          height={0}
          tickSize={0}
          tickMargin={0}
          tick={<TopTick />}
          axisLine={{ stroke: FRAME }}
        />
        <YAxis
          type="number"
          domain={[-2, 25]}
          ticks={yTicks}
          interval={0}
          allowDataOverflow
          width={Y_AXIS_W}
          tickSize={0}
          tickMargin={0}
          tick={<LeftTick />}
          axisLine={{ stroke: FRAME }}
        />
        <YAxis
          yAxisId="right"
          orientation="right"
          type="number"
          domain={[-2, 25]}
          ticks={yTicks}
          interval={0}
          width={0}
          tickSize={0}
          tickMargin={0}
          tick={<RightTick />}
          axisLine={{ stroke: FRAME }}
        />
        <Legend
          layout="vertical"
          align="center"
          verticalAlign="middle"
          wrapperStyle={{ ...legendPos, width: "auto" }}
          content={() => <LegendBox pix={pix} />}
        />
        <Line
          type="linear"
          dataKey="co12"
          name={`12CO Pix ${pix}`}
          stroke={BLUE}
          strokeOpacity={0.75}
          strokeWidth={1}
          dot={false}
          isAnimationActive={false}
        />
        <Line
          type="linear"
          dataKey="co13"
          name={`13CO Pix ${pix}`}
          stroke={GREEN}
          strokeOpacity={0.85}
          strokeWidth={1}
          dot={false}
          isAnimationActive={false}
        />
      </LineChart>
    </div>
  );
}

export default function App() {
  const pixels = Array.from({ length: 16 }, (_, i) => i + 1);
  return (
    <div
      style={{
        position: "absolute",
        left: 0,
        top: 0,
        width: 1042,
        height: 698,
        overflow: "hidden",
        background: "#fff",
        fontFamily: FONT,
      }}
    >
      {pixels.map((p) => (
        <Panel key={p} pix={p} />
      ))}
    </div>
  );
}
